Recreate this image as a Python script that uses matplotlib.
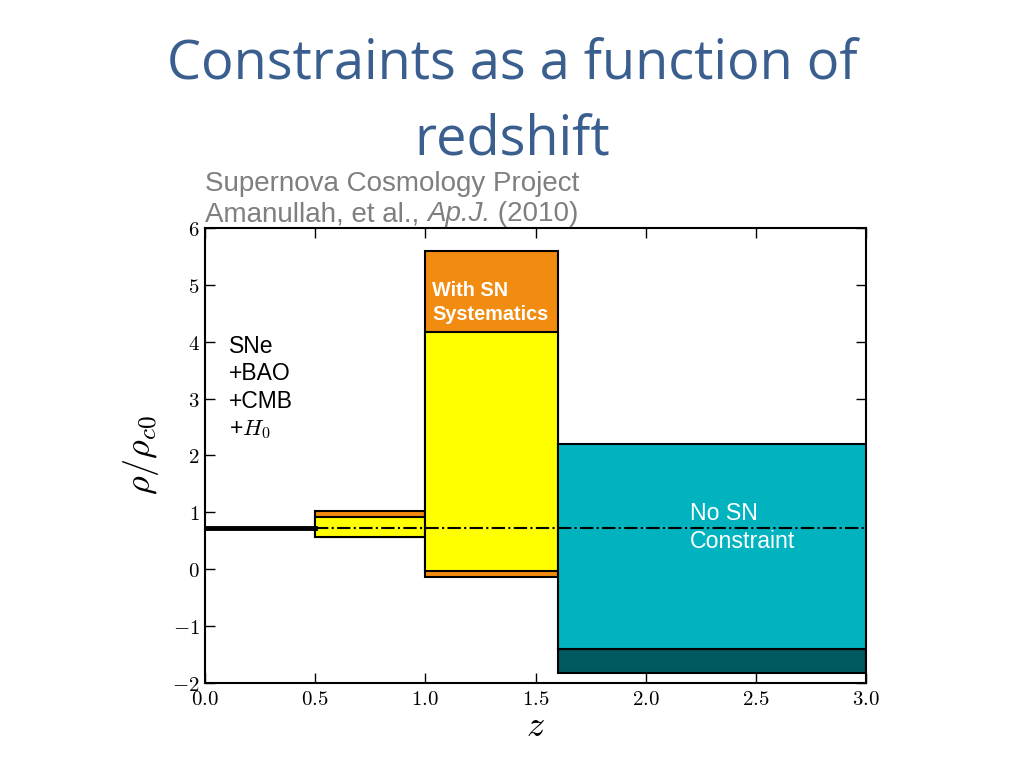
import matplotlib.pyplot as plt
from matplotlib.ticker import FuncFormatter, MultipleLocator

plt.rcParams['mathtext.fontset'] = 'cm'

# redshift bins
bin_lo = [0.5, 1.0]
bin_hi = [1.0, 1.6]
# statistical-only range (yellow) and with SN systematics (orange)
stat_lo = [0.56, -0.04]
stat_hi = [0.91, 4.17]
sys_lo = [0.56, -0.14]
sys_hi = [1.02, 5.59]

# last bin, no SN constraint
last_lo, last_hi = 1.6, 3.0
nosn_lo, nosn_hi = -1.41, 2.21
nosn_floor = -1.82

# low-z bin is a single value
low_z = [0.0, 0.5]
low_val = 0.73
fid_val = 0.73

fig = plt.figure(figsize=(10.24, 7.68), dpi=100)
ax = fig.add_axes([0.2002, 0.1107, 0.6455, 0.5925])

for lo, hi, s0, s1, y0, y1 in zip(bin_lo, bin_hi, sys_lo, sys_hi, stat_lo, stat_hi):
    ax.bar(lo, s1 - s0, width=hi - lo, bottom=s0, align='edge',
           color='#f28c10', edgecolor='black', linewidth=1.5, zorder=2)
    ax.bar(lo, y1 - y0, width=hi - lo, bottom=y0, align='edge',
           color='#ffff00', edgecolor='black', linewidth=1.5, zorder=3)

ax.bar(last_lo, nosn_lo - nosn_floor, width=last_hi - last_lo, bottom=nosn_floor,
       align='edge', color='#005a60', edgecolor='black', linewidth=1.5, zorder=2)
ax.bar(last_lo, nosn_hi - nosn_lo, width=last_hi - last_lo, bottom=nosn_lo,
       align='edge', color='#00b3bf', edgecolor='black', linewidth=1.5, zorder=3)

ax.plot(low_z, [low_val, low_val], color='black', linewidth=3.5, zorder=4)
ax.plot([0.5, 3.0], [fid_val, fid_val], color='black', linestyle='-.',
        linewidth=1.5, zorder=4)

ax.set_xlim(0, 3)
ax.set_ylim(-2, 6)
ax.xaxis.set_major_locator(MultipleLocator(0.5))
ax.yaxis.set_major_locator(MultipleLocator(1))
ax.xaxis.set_major_formatter(FuncFormatter(lambda v, p: '$%.1f$' % v))
ax.yaxis.set_major_formatter(FuncFormatter(lambda v, p: '$%d$' % v))
ax.tick_params(direction='in', top=True, right=True, length=7, width=1,
               labelsize=15, pad=4)
for s in ax.spines.values():
    s.set_linewidth(1.5)

ax.set_xlabel(r'$z$', fontsize=26, labelpad=0)
ax.set_ylabel(r'$\rho/\rho_{c0}$', fontsize=26, labelpad=8)

ax.text(0.11, 4.12, 'SNe\n+BAO\n+CMB\n+$H_0$', fontsize=16.5, family='Liberation Sans',
        va='top', ha='left', linespacing=1.24)
ax.text(1.03, 4.69, 'With SN\nSystematics', fontsize=14.3, family='Liberation Sans',
        fontweight='bold', color='white', va='center', ha='left', linespacing=1.35,
        zorder=5)
ax.text(2.2, 0.73, 'No SN\nConstraint', fontsize=16.7, family='Liberation Sans',
        color='white', va='center', ha='left', linespacing=1.3, zorder=5)

# source note above the axes, with the journal name in italics
sub_kw = dict(fontsize=20, family='Liberation Sans', color='#7f7f7f')
fig.text(0.2002, 0.751, 'Supernova Cosmology Project', ha='left', va='baseline', **sub_kw)
t1 = fig.text(0.2002, 0.712, 'Amanullah, et al., ', ha='left', va='baseline', **sub_kw)
t2 = ax.annotate('Ap.J.', xy=(1, 0), xycoords=t1, ha='left', va='bottom',
                 style='italic', annotation_clip=False, **sub_kw)
ax.annotate(' (2010)', xy=(1, 0), xycoords=t2, ha='left', va='bottom',
            annotation_clip=False, **sub_kw)

fig.text(0.5, 0.952, 'Constraints as a function of\nredshift', fontsize=39,
         family='Open Sans', color='#3a5f8f', ha='center', va='top', linespacing=1.5)

fig.savefig('out.png', dpi=100)
